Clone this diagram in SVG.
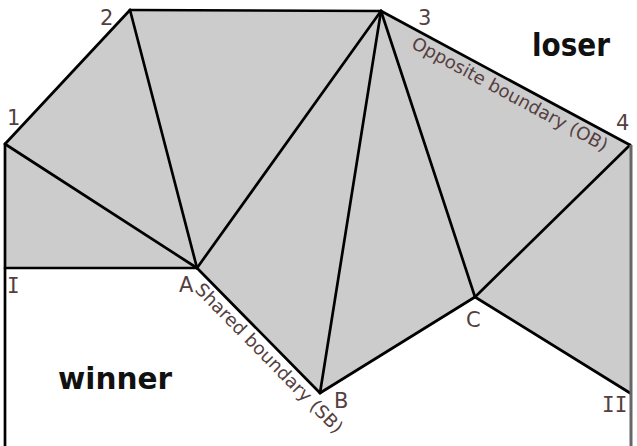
<svg xmlns="http://www.w3.org/2000/svg" width="637" height="446" viewBox="0 0 637 446">
<style>
.e{stroke:#000;stroke-width:2.7;fill:none;stroke-linecap:round;stroke-linejoin:round}
.lbl{font-family:"DejaVu Sans",Verdana,sans-serif;font-size:21px;fill:#553f3f}
.rom{font-family:"DejaVu Sans Mono",monospace;font-size:21px;fill:#553f3f}
.bnd{font-family:"DejaVu Sans",Verdana,sans-serif;font-size:18px;fill:#553f3f}
.big{font-family:"DejaVu Sans",Verdana,sans-serif;font-weight:bold;fill:#111}
</style>
<rect width="637" height="446" fill="#fff"/>
<g id="region">
<polygon points="5,144 130,10 381,11 630,145 630,393 475,297 320,393 197,268 5,268" fill="#cccccc"/>
</g>
<g id="connectors">
<line class="e" x1="5" y1="144" x2="130" y2="10"/>
<line class="e" x1="130" y1="10" x2="381" y2="11"/>
<line class="e" x1="381" y1="11" x2="630" y2="145"/>
<line class="e" x1="5" y1="144" x2="197" y2="268"/>
<line class="e" x1="130" y1="10" x2="197" y2="268"/>
<line class="e" x1="381" y1="11" x2="197" y2="268"/>
<line class="e" x1="381" y1="11" x2="320" y2="393"/>
<line class="e" x1="381" y1="11" x2="475" y2="297"/>
<line class="e" x1="630" y1="145" x2="475" y2="297"/>
<line class="e" x1="5" y1="268" x2="197" y2="268"/>
<line class="e" x1="197" y1="268" x2="320" y2="393"/>
<line class="e" x1="320" y1="393" x2="475" y2="297"/>
<line class="e" x1="475" y1="297" x2="630" y2="393"/>
<line class="e" x1="5" y1="144" x2="5" y2="446"/>
<line x1="631" y1="145" x2="631" y2="446" stroke="#666" stroke-width="3"/>
</g>
<g id="n1"><text class="lbl" x="7" y="125">1</text></g>
<g id="n2"><text class="lbl" x="100" y="25">2</text></g>
<g id="n3"><text class="lbl" x="418" y="25">3</text></g>
<g id="n4"><text class="lbl" x="616" y="130">4</text></g>
<g id="nI"><text class="rom" x="7" y="293">I</text></g>
<g id="nA"><text class="lbl" x="179" y="292">A</text></g>
<g id="nB"><text class="lbl" x="334" y="408">B</text></g>
<g id="nC"><text class="lbl" x="466" y="327">C</text></g>
<g id="nII"><text class="rom" x="602" y="412">II</text></g>
<g id="sb"><text class="bnd" transform="translate(197,268) rotate(45.5)" x="14" y="18" textLength="202" lengthAdjust="spacingAndGlyphs">Shared boundary (SB)</text></g>
<g id="ob"><text class="bnd" transform="translate(381,11) rotate(28.4)" x="43" y="18" textLength="220" lengthAdjust="spacingAndGlyphs">Opposite boundary (OB)</text></g>
<g id="loser"><text class="big" x="532" y="56" font-size="32" textLength="78" lengthAdjust="spacingAndGlyphs">loser</text></g>
<g id="winner"><text class="big" x="58" y="389" font-size="30" textLength="114" lengthAdjust="spacingAndGlyphs">winner</text></g>
</svg>
